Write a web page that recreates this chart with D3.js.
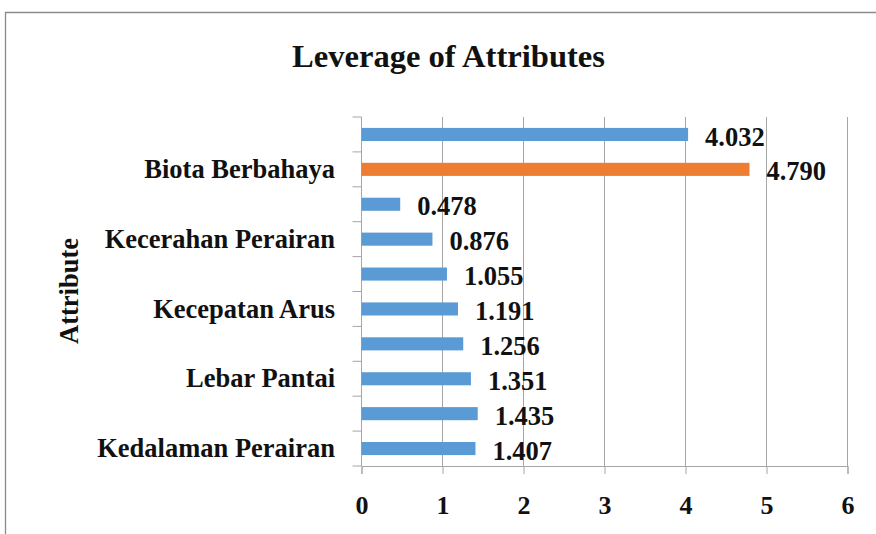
<!DOCTYPE html>
<html>
<head>
<meta charset="utf-8">
<script src="https://cdn.jsdelivr.net/npm/d3@7/dist/d3.min.js"></script>
<style>
  html, body { margin: 0; padding: 0; background: #fff; }
  svg { display: block; }
  text { font-family: "Liberation Serif", "Times New Roman", serif; font-weight: bold; fill: #111; }
</style>
</head>
<body>
<svg id="chart" width="876" height="534"></svg>
<script>
// Data (top to bottom as drawn); empty labels are categories whose names Excel skipped
const categories = ["", "Biota Berbahaya", "", "Kecerahan Perairan", "", "Kecepatan Arus", "", "Lebar Pantai", "", "Kedalaman Perairan"];
const values = [4.032, 4.790, 0.478, 0.876, 1.055, 1.191, 1.256, 1.351, 1.435, 1.407];
const highlighted = ["Biota Berbahaya"];
const xTicks = [0, 1, 2, 3, 4, 5, 6];
const title = "Leverage of Attributes";
const yTitle = "Attribute";

(function () {
const svg = d3.select("#chart");
const W = 876, H = 534;
const pL = 361.5, pR = 847.5, pT = 117, pB = 466;

// frame
svg.append("path")
  .attr("d", `M5.5,${H} L5.5,12.5 L${W},12.5`)
  .attr("fill", "none").attr("stroke", "#8a8a8a").attr("stroke-width", 1.3);

const x = d3.scaleLinear().domain([0, 6]).range([pL, pR]);
const idx = d3.range(categories.length);
const y = d3.scaleBand().domain(idx).range([pT, pB]).padding(0);
const barH = y.bandwidth() * 0.375;

// gridlines
svg.append("g").selectAll("line").data(xTicks.filter(t => t > 0)).join("line")
  .attr("x1", d => x(d)).attr("x2", d => x(d))
  .attr("y1", pT).attr("y2", pB)
  .attr("stroke", "#a6a6a6").attr("stroke-width", 1);

// x axis
const xAxis = svg.append("g").attr("transform", `translate(0,${pB})`)
  .call(d3.axisBottom(x).tickValues(xTicks).tickSize(8).tickPadding(0).tickFormat(d3.format("d")));
xAxis.select(".domain").attr("stroke", "#a6a6a6");
xAxis.selectAll(".tick line").attr("stroke", "#a6a6a6");
xAxis.selectAll(".tick text").attr("y", 48).attr("dy", null)
  .style("font-size", "26px").style("font-family", "Liberation Serif").style("font-weight", "bold").attr("fill", "#111");

// y axis line + ticks at band boundaries
svg.append("line").attr("x1", pL).attr("x2", pL).attr("y1", pT).attr("y2", pB)
  .attr("stroke", "#a6a6a6");
const bounds = idx.map(i => y(i)).concat([pB]);
svg.append("g").selectAll("line").data(bounds).join("line")
  .attr("x1", pL - 9).attr("x2", pL).attr("y1", d => d).attr("y2", d => d)
  .attr("stroke", "#a6a6a6");

// category labels
svg.append("g").selectAll("text").data(idx.filter(i => categories[i] !== "")).join("text")
  .attr("x", 335).attr("y", i => y(i) + y.bandwidth() / 2).attr("dy", "0.33em")
  .attr("text-anchor", "end").style("font-size", "26.5px")
  .text(i => categories[i]);

// bars
svg.append("g").selectAll("rect").data(idx).join("rect")
  .attr("x", x(0))
  .attr("y", i => y(i) + (y.bandwidth() - barH) / 2)
  .attr("width", i => x(values[i]) - x(0))
  .attr("height", barH)
  .attr("fill", i => highlighted.includes(categories[i]) ? "#ed7d31" : "#5b9bd5");

// value labels
svg.append("g").selectAll("text").data(idx).join("text")
  .attr("x", i => x(values[i]) + 17)
  .attr("y", i => y(i) + y.bandwidth() / 2).attr("dy", "0.42em")
  .style("font-size", "26.5px")
  .text(i => d3.format(".3f")(values[i]));

// title
svg.append("text").attr("x", 448.5).attr("y", 67).attr("text-anchor", "middle")
  .style("font-size", "32.6px").text(title);

// y title
svg.append("text").attr("transform", `translate(78,291) rotate(-90)`)
  .attr("text-anchor", "middle").style("font-size", "26.5px").text(yTitle);
})();
</script>
</body>
</html>
